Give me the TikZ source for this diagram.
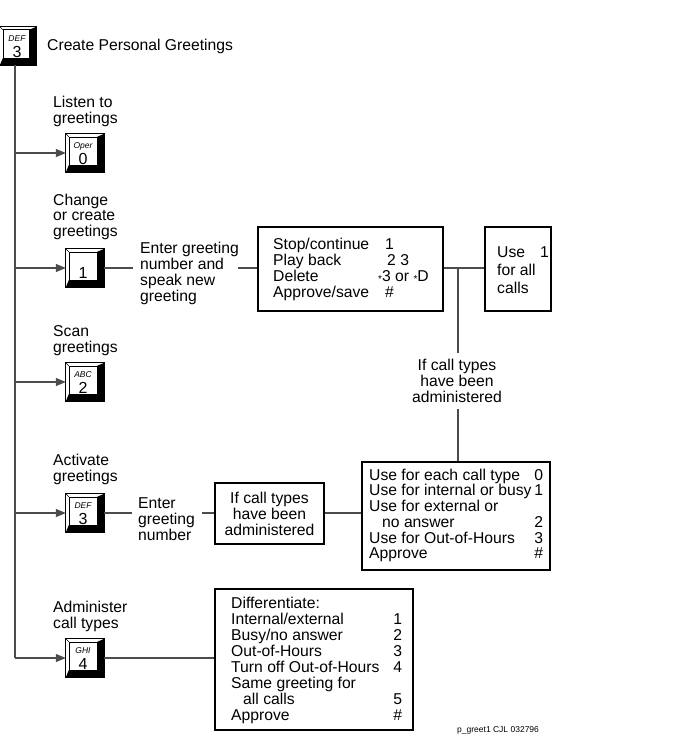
\documentclass[tikz,border=0pt]{standalone}
\usepackage{fontspec}
\setmainfont{Liberation Sans}
\usetikzlibrary{arrows.meta}
\newcommand\keydeco[1]{%
  \fill[black] (#1.south west) -- (#1.south east) -- (#1.north east)
     -- ([xshift=-7pt,yshift=-3pt]#1.north east)
     -- ([xshift=-7pt,yshift=7pt]#1.south east)
     -- ([xshift=3pt,yshift=7pt]#1.south west) -- cycle;
  \draw[line width=0.5pt] (#1.north west) -- ([xshift=3pt,yshift=-3pt]#1.north west);
  \draw[line width=0.6pt] ([xshift=3pt,yshift=7pt]#1.south west) rectangle ([xshift=-7pt,yshift=-3pt]#1.north east);
  \draw[line width=0.9pt] (#1.north west) rectangle (#1.south east);
}
\newcommand\lr[3]{\makebox[#1][l]{#2\hfill#3}}
\begin{document}
\begin{tikzpicture}[x=1pt,y=-1pt,
  txt/.style={inner sep=0pt, anchor=base west, font=\fontsize{15.7}{15.6}\selectfont},
  ctxt/.style={inner sep=0pt, anchor=base, font=\fontsize{15.7}{15.6}\selectfont},
  boxn/.style={draw=black, line width=1.3pt, inner sep=0pt},
  conn/.style={draw=black!70, line width=1.1pt},
  arr/.style={conn, -{Triangle[length=10pt,width=8pt]}},
  keybox/.style={minimum width=38pt, minimum height=38pt, inner sep=0pt, draw=none},
  keylab/.style={inner sep=0pt, font=\fontsize{8.5}{9}\selectfont\itshape},
  keynum/.style={inner sep=0pt, font=\fontsize{16}{16}\selectfont},
]
\useasboundingbox (0,0) rectangle (681,749);

% keys
\node[keybox, minimum width=36pt] (k0) at (18,46) {};
\node[keybox] (ko) at (85,153) {};
\node[keybox] (k1) at (85,268) {};
\node[keybox] (k2) at (85,382) {};
\node[keybox] (k3) at (85,513) {};
\node[keybox] (k4) at (85,658) {};
\foreach \k in {k0,ko,k1,k2,k3,k4} {\keydeco{\k}}
\node[keylab] (k0l) at ([xshift=-1pt,yshift=7pt]k0.center) {DEF};
\node[keynum] (k0n) at ([xshift=-1pt,yshift=-6pt]k0.center) {3};
\node[keylab] (kol) at ([xshift=-2pt,yshift=7pt]ko.center) {Oper};
\node[keynum] (kon) at ([xshift=-2pt,yshift=-6pt]ko.center) {0};
\node[keynum] (k1n) at ([xshift=-2pt,yshift=-5pt]k1.center) {1};
\node[keylab] (k2l) at ([xshift=-2pt,yshift=7pt]k2.center) {ABC};
\node[keynum] (k2n) at ([xshift=-2pt,yshift=-6pt]k2.center) {2};
\node[keylab] (k3l) at ([xshift=-2pt,yshift=7pt]k3.center) {DEF};
\node[keynum] (k3n) at ([xshift=-2pt,yshift=-6pt]k3.center) {3};
\node[keylab] (k4l) at ([xshift=-2pt,yshift=7pt]k4.center) {GHI};
\node[keynum] (k4n) at ([xshift=-2pt,yshift=-6pt]k4.center) {4};

% labels
\node[txt] (title) at (47,51) {Create Personal Greetings};
\node[txt] (l0) at (53,107) {\begin{tabular}[t]{@{}l@{}}Listen to\\greetings\end{tabular}};
\node[txt] (l1) at (53,205) {\begin{tabular}[t]{@{}l@{}}Change\\or create\\greetings\end{tabular}};
\node[txt] (l2) at (53,336) {\begin{tabular}[t]{@{}l@{}}Scan\\greetings\end{tabular}};
\node[txt] (l3) at (53,465) {\begin{tabular}[t]{@{}l@{}}Activate\\greetings\end{tabular}};
\node[txt] (l4) at (53,612) {\begin{tabular}[t]{@{}l@{}}Administer\\call types\end{tabular}};

\node[txt] (enter1) at (140,253) {\begin{tabular}[t]{@{}l@{}}Enter greeting\\number and\\speak new\\greeting\end{tabular}};
\node[txt] (enter3) at (138,508) {\begin{tabular}[t]{@{}l@{}}Enter\\greeting\\number\end{tabular}};

% boxes
\node[boxn, minimum width=185pt, minimum height=84pt] (b1) at (350.5,269) {};
\node[txt] (b1t) at (273,249) {\begin{tabular}[t]{@{}l@{}}
\makebox[112pt][l]{Stop/continue}1\\
\makebox[114pt][l]{Play back}2 3\\
\makebox[105pt][l]{Delete}{\fontsize{10}{10}\selectfont\raisebox{-1pt}{*}}3 or {\fontsize{10}{10}\selectfont\raisebox{-1pt}{*}}D\\
\makebox[112pt][l]{Approve/save}\#\end{tabular}};

\node[boxn, minimum width=66pt, minimum height=84pt] (bu) at (518,269) {};
\node[txt, font=\fontsize{15.7}{18}\selectfont] (but) at (497,257) {\begin{tabular}[t]{@{}l@{}}\makebox[43pt][l]{Use}1\\for all\\calls\end{tabular}};

\node[ctxt] (ifmid) at (457,370) {\begin{tabular}[t]{@{}c@{}}If call types\\have been\\administered\end{tabular}};

\node[boxn, minimum width=109pt, minimum height=61pt] (bm) at (269.5,513.5) {};
\node[ctxt] (bmt) at (269.5,503) {\begin{tabular}[t]{@{}c@{}}If call types\\have been\\administered\end{tabular}};

\node[boxn, minimum width=188pt, minimum height=108pt] (b2) at (456,516) {};
\node[txt, font=\fontsize{15.7}{15.3}\selectfont] (b2t) at (369,480) {\begin{tabular}[t]{@{}l@{}}
\lr{174pt}{Use for each call type}{0}\\
\lr{174pt}{Use for internal or busy}{1}\\
Use for external or\\
\lr{174pt}{\hspace{13pt}no answer}{2}\\
\lr{174pt}{Use for Out-of-Hours}{3}\\
\lr{174pt}{Approve}{\#}\end{tabular}};

\node[boxn, minimum width=198pt, minimum height=141pt] (b3) at (314,659.5) {};
\node[txt, font=\fontsize{15.7}{15.7}\selectfont] (b3t) at (231,608) {\begin{tabular}[t]{@{}l@{}}
Differentiate:\\
\lr{171pt}{Internal/external}{1}\\
\lr{171pt}{Busy/no answer}{2}\\
\lr{171pt}{Out-of-Hours}{3}\\
\lr{171pt}{Turn off Out-of-Hours}{4}\\
Same greeting for\\
\lr{171pt}{\hspace{12pt}all calls}{5}\\
\lr{171pt}{Approve}{\#}\end{tabular}};

\node[inner sep=0pt, anchor=base west, font=\fontsize{8.5}{9}\selectfont] (foot) at (457,732) {p\_greet1 CJL 032796};

% connectors
\coordinate (t0) at (15,65);
\coordinate (t4) at (15,658);
\draw[conn] (t0) -- (t4);
\draw[arr] (t4) -- (k4.west);
\draw[arr] (ko.west -| t0) -- (ko.west);
\draw[arr] (k1.west -| t0) -- (k1.west);
\draw[arr] (k2.west -| t0) -- (k2.west);
\draw[arr] (k3.west -| t0) -- (k3.west);

\coordinate (e1a) at (133,268);
\coordinate (e1b) at (238,268);
\draw[conn] (k1.east) -- (e1a);
\draw[conn] (e1b) -- (b1.west |- e1b);
\draw[conn] (b1.east |- e1b) -- (bu.west |- e1b);
\coordinate (vj) at (458,268);
\coordinate (vm1) at (458,353);
\coordinate (vm2) at (458,409);
\draw[conn] (vj) -- (vm1);
\draw[conn] (vm2) -- (vm2 |- b2.north);

\coordinate (e3a) at (132,513);
\coordinate (e3b) at (202,513);
\draw[conn] (k3.east) -- (e3a);
\draw[conn] (e3b) -- (bm.west |- e3b);
\draw[conn] (bm.east |- e3b) -- (b2.west |- e3b);
\draw[conn] (k4.east) -- (b3.west |- k4.east);
\end{tikzpicture}
\end{document}
